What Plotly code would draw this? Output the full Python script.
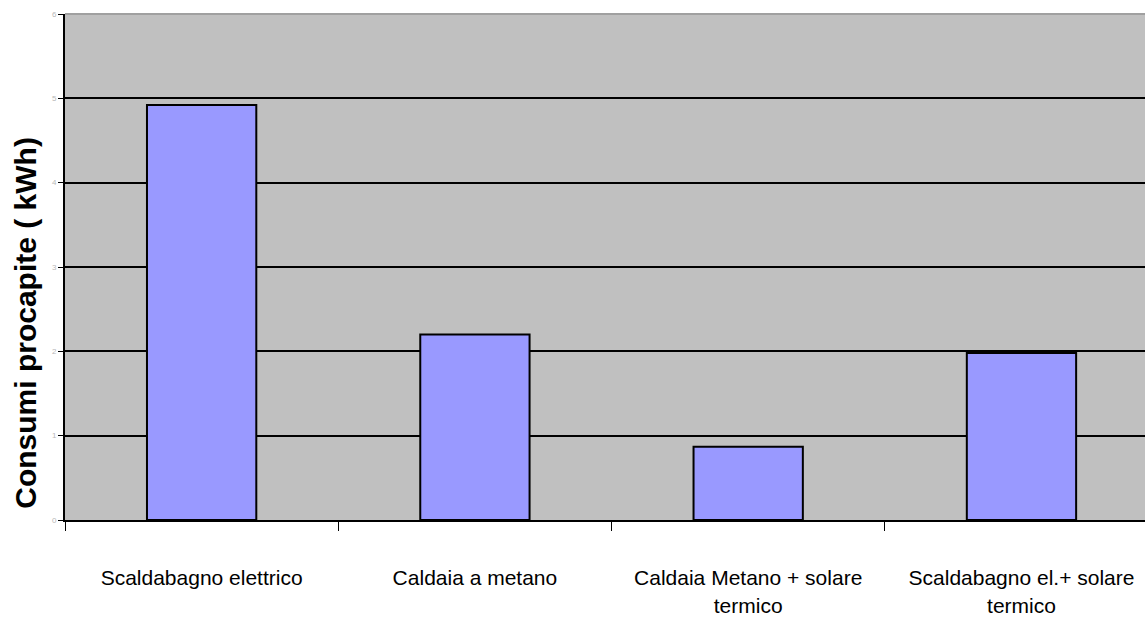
import plotly.graph_objects as go

categories = ["Scaldabagno elettrico", "Caldaia a metano",
              "Caldaia Metano + solare<br>termico", "Scaldabagno el.+ solare<br>termico"]
values = [4.92, 2.2, 0.87, 1.98]
y_ticks = [0, 1, 2, 3, 4, 5, 6]
y_title = "Consumi procapite ( kWh)"

fig = go.Figure()
fig.add_trace(go.Bar(
    x=categories, y=values, width=0.4,
    marker=dict(color="#9999ff", line=dict(color="black", width=2)),
))

fig.update_layout(
    width=1145, height=624,
    margin=dict(l=65, r=0, t=14, b=104),
    paper_bgcolor="white", plot_bgcolor="#c0c0c0",
    showlegend=False,
    bargap=0.6,
)
fig.update_xaxes(
    type="category",
    range=[-0.5, 3.452],
    tickson="boundaries", ticks="outside", ticklen=9, tickcolor="black", tickwidth=1,
    showline=True, linecolor="black", linewidth=2,
    showgrid=False,
    tickfont=dict(family="Arial", size=21, color="black"),
    ticklabelstandoff=38,
)
fig.update_yaxes(
    range=[0, 6], tickvals=y_ticks,
    ticks="outside", ticklen=5, tickcolor="black", tickwidth=1,
    showline=True, linecolor="black", linewidth=2,
    showgrid=True, gridcolor="black", gridwidth=2,
    zeroline=False,
    tickfont=dict(family="Arial", size=8, color="#b8b8b8"),
)
fig.add_annotation(
    text=y_title, textangle=-90, showarrow=False,
    xref="paper", yref="paper", x=-0.036, y=0.39,
    xanchor="center", yanchor="middle",
    font=dict(family="Arial", size=30, color="black", weight="bold"),
)
fig.add_shape(type="line", xref="paper", yref="paper", x0=0, x1=1, y0=1, y1=1,
              line=dict(color="#a0a0a0", width=2))
fig.write_html("out.html")
